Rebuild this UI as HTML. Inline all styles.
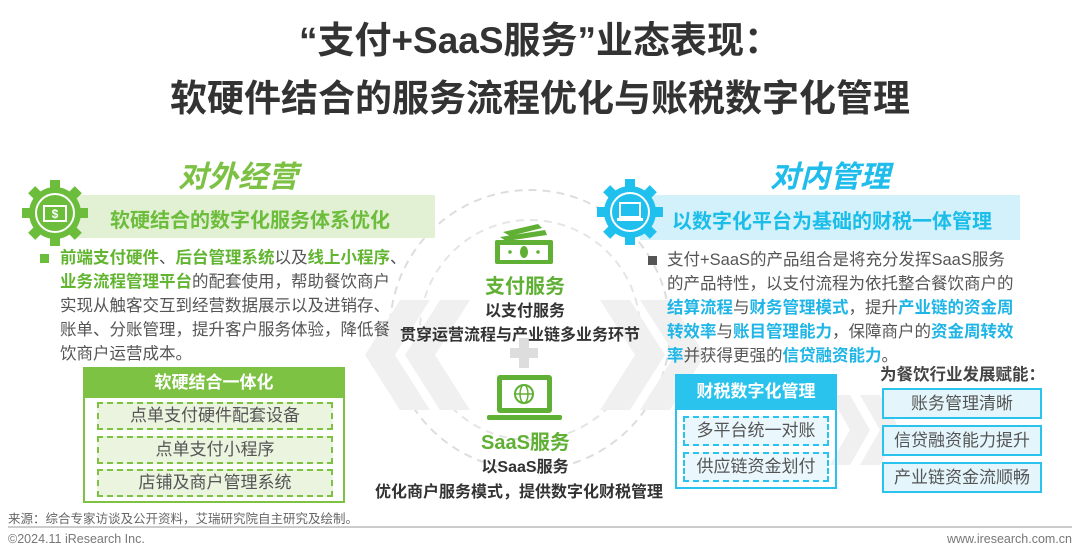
<!DOCTYPE html>
<html><head><meta charset="utf-8"><style>
*{margin:0;padding:0;box-sizing:border-box}
body{width:1080px;height:555px;background:#fff;position:relative;overflow:hidden;font-family:"Liberation Sans","Noto Sans CJK SC",sans-serif;color:#444}
.a{position:absolute;white-space:nowrap}
.t{font-weight:bold;color:#333;font-size:37px;left:0;width:1080px;text-align:center}
.g{color:#62b530;font-weight:bold}
.b{color:#1fb5e6;font-weight:bold}
.p{font-size:16.5px;line-height:24px;color:#555}
.db{position:absolute;border:2px dashed #7dc243;background:#eaf4df;text-align:center;font-size:17px;color:#555;line-height:24px}
.dbb{position:absolute;border:2px dashed #29c3ee;background:#eaf8fd;text-align:center;font-size:17px;color:#555;line-height:26px}
.rb{position:absolute;border:2px solid #29c3ee;background:#e4f6fc;text-align:center;font-size:17px;color:#555;line-height:27px;left:882px;width:160px;height:31px}
</style></head><body>
<div class="a t" style="top:16px;line-height:50px">“支付+SaaS服务”业态表现：</div>
<div class="a t" style="top:74px;line-height:50px">软硬件结合的服务流程优化与账税数字化管理</div>

<svg class="a" style="left:0;top:0" width="1080" height="555">
 <circle cx="530" cy="330" r="140" fill="none" stroke="#ddd" stroke-width="2" stroke-dasharray="8 6"/>
 <circle cx="530" cy="330" r="110" fill="none" stroke="#e5e5e5" stroke-width="2" stroke-dasharray="8 6"/>
 <g fill="#f0f0f0">
  <polygon points="400,300 430,300 395,355 430,410 400,410 365,355"/>
  <polygon points="440,300 470,300 435,355 470,410 440,410 405,355"/>
  <polygon points="600,300 630,300 665,355 630,410 600,410 635,355"/>
  <polygon points="640,300 670,300 705,355 670,410 640,410 675,355"/>
  <polygon points="830,395 850,395 870,430 850,465 830,465 850,430"/>
  <polygon points="860,395 880,395 900,430 880,465 860,465 880,430"/>
 </g>
 <!-- money -->
 <g fill="#5fb034">
  <polygon points="503,232 538,224 542,228 510,236"/>
  <polygon points="500,237 545,230 547,235 506,241"/>
  <rect x="495" y="240" width="58" height="24" rx="2"/>
  <rect x="500" y="245" width="48" height="15" fill="#fff"/>
  <ellipse cx="524" cy="252" rx="4" ry="6"/>
  <circle cx="510" cy="252" r="1.8"/><circle cx="538" cy="252" r="1.8"/>
 </g>
 <rect x="510" y="348" width="28" height="10" fill="#ddd"/><rect x="519" y="338" width="10" height="30" fill="#ddd"/>
 <!-- laptop -->
 <g fill="#5fb034">
  <rect x="497" y="375" width="55" height="38" rx="3"/>
  <rect x="502" y="380" width="45" height="28" fill="#fff"/>
  <rect x="487" y="415" width="75" height="5" rx="2"/>
  <circle cx="524" cy="394" r="9" fill="none" stroke="#5fb034" stroke-width="2"/>
  <ellipse cx="524" cy="394" rx="4" ry="9" fill="none" stroke="#5fb034" stroke-width="1.5"/>
  <line x1="515" y1="394" x2="533" y2="394" stroke="#5fb034" stroke-width="1.5"/>
 </g>
 <!-- bands -->
 <rect x="75" y="195" width="360" height="43" fill="#e2f0d3"/>
 <rect x="640" y="195" width="380" height="45" fill="#d3f1fa"/>
 <!-- gears -->
 <g transform="translate(55,213)" fill="#6cbd3b">
  <circle r="26"/>
  <g id="tg"><rect x="-5" y="-33" width="10" height="12"/></g>
  <use href="#tg" transform="rotate(45)"/><use href="#tg" transform="rotate(90)"/><use href="#tg" transform="rotate(135)"/><use href="#tg" transform="rotate(180)"/><use href="#tg" transform="rotate(225)"/><use href="#tg" transform="rotate(270)"/><use href="#tg" transform="rotate(315)"/>
  <circle r="19" fill="none" stroke="#fff" stroke-width="2"/>
  <rect x="-11" y="-7" width="22" height="15" fill="none" stroke="#fff" stroke-width="2"/>
  <text x="0" y="5" text-anchor="middle" fill="#fff" font-size="12" font-weight="bold">$</text>
 </g>
 <g transform="translate(630,212)" fill="#20c0ee">
  <circle r="26"/>
  <g id="tb"><rect x="-5" y="-33" width="10" height="12"/></g>
  <use href="#tb" transform="rotate(45)"/><use href="#tb" transform="rotate(90)"/><use href="#tb" transform="rotate(135)"/><use href="#tb" transform="rotate(180)"/><use href="#tb" transform="rotate(225)"/><use href="#tb" transform="rotate(270)"/><use href="#tb" transform="rotate(315)"/>
  <circle r="19" fill="none" stroke="#fff" stroke-width="2"/>
  <rect x="-10" y="-9" width="20" height="14" fill="none" stroke="#fff" stroke-width="2"/>
  <rect x="-13" y="6" width="26" height="3" fill="#fff"/>
 </g>
 <rect x="40" y="254" width="9" height="9" fill="#6cbd3b"/>
 <rect x="648" y="256" width="9" height="9" fill="#555"/>
 <line x1="8" y1="527" x2="1072" y2="527" stroke="#999" stroke-width="1"/>
</svg>

<div class="a" style="left:178px;top:152px;font-size:30px;font-style:italic;font-weight:bold;color:#7cc143">对外经营</div>
<div class="a" style="left:770px;top:152px;font-size:30px;font-style:italic;font-weight:bold;color:#20bdec">对内管理</div>
<div class="a g" style="left:110px;top:204px;font-size:20px;color:#6cbd3b">软硬结合的数字化服务体系优化</div>
<div class="a b" style="left:672px;top:205px;font-size:20px;color:#1bbde9">以数字化平台为基础的财税一体管理</div>

<div class="a p" style="left:60px;top:246px"><span class="g">前端支付硬件</span>、<span class="g">后台管理系统</span>以及<span class="g">线上小程序</span>、<br><span class="g">业务流程管理平台</span>的配套使用，帮助餐饮商户<br>实现从触客交互到经营数据展示以及进销存、<br>账单、分账管理，提升客户服务体验，降低餐<br>饮商户运营成本。</div>

<div class="a p" style="left:667px;top:248px">支付+SaaS的产品组合是将充分发挥SaaS服务<br>的产品特性，以支付流程为依托整合餐饮商户的<br><span class="b">结算流程</span>与<span class="b">财务管理模式</span>，提升<span class="b">产业链的资金周</span><br><span class="b">转效率</span>与<span class="b">账目管理能力</span>，保障商户的<span class="b">资金周转效</span><br><span class="b">率</span>并获得更强的<span class="b">信贷融资能力</span>。</div>

<div class="a" style="left:83px;top:367px;width:262px;height:136px;border:2px solid #7dc243"></div>
<div class="a" style="left:83px;top:367px;width:262px;height:31px;background:#7dc243;color:#fff;font-weight:bold;font-size:17px;text-align:center;line-height:31px">软硬结合一体化</div>
<div class="db" style="left:97px;top:402px;width:236px;height:28px">点单支付硬件配套设备</div>
<div class="db" style="left:97px;top:436px;width:236px;height:28px">点单支付小程序</div>
<div class="db" style="left:97px;top:469px;width:236px;height:28px">店铺及商户管理系统</div>

<div class="a" style="left:675px;top:374px;width:162px;height:115px;border:2px solid #29c3ee"></div>
<div class="a" style="left:675px;top:374px;width:162px;height:36px;background:#29c3ee;color:#fff;font-weight:bold;font-size:17px;text-align:center;line-height:36px">财税数字化管理</div>
<div class="dbb" style="left:683px;top:416px;width:146px;height:30px">多平台统一对账</div>
<div class="dbb" style="left:683px;top:452px;width:146px;height:30px">供应链资金划付</div>

<div class="a" style="left:880px;top:361px;font-size:16.5px;font-weight:bold;color:#444">为餐饮行业发展赋能：</div>
<div class="rb" style="top:388px">账务管理清晰</div>
<div class="rb" style="top:425px">信贷融资能力提升</div>
<div class="rb" style="top:462px">产业链资金流顺畅</div>

<div class="a g" style="left:485px;top:270px;font-size:20px;color:#5fb034">支付服务</div>
<div class="a" style="left:0;width:1050px;text-align:center;top:297px;font-size:16px;font-weight:bold;color:#333">以支付服务</div>
<div class="a" style="left:400px;top:321px;font-size:16px;font-weight:bold;color:#333">贯穿运营流程与产业链多业务环节</div>
<div class="a g" style="left:481px;top:426px;font-size:20px;color:#5fb034">SaaS服务</div>
<div class="a" style="left:0;width:1050px;text-align:center;top:453px;font-size:16px;font-weight:bold;color:#333">以SaaS服务</div>
<div class="a" style="left:375px;top:478px;font-size:16px;font-weight:bold;color:#333">优化商户服务模式，提供数字化财税管理</div>

<div class="a" style="left:8px;top:508px;font-size:12.5px;color:#666">来源：综合专家访谈及公开资料，艾瑞研究院自主研究及绘制。</div>
<div class="a" style="left:8px;top:532px;font-size:12.5px;color:#777">©2024.11 iResearch Inc.</div>
<div class="a" style="right:8px;top:532px;font-size:12.5px;color:#777">www.iresearch.com.cn</div>
</body></html>
